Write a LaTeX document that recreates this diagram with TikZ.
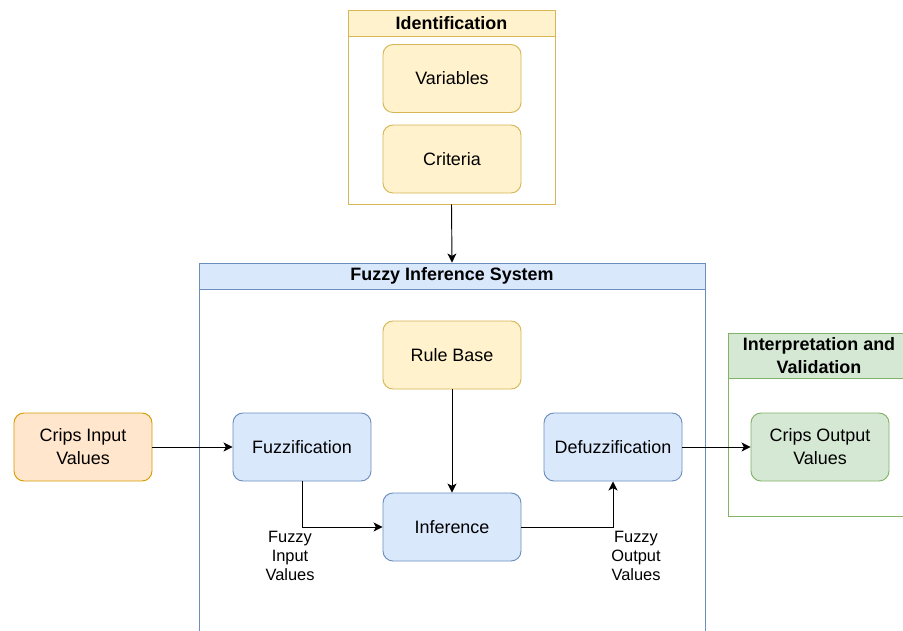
\documentclass[tikz,border=0pt]{standalone}
\usepackage{fontspec}
\setmainfont{Liberation Sans}
\usetikzlibrary{arrows.meta,positioning,fit}
\definecolor{yelfill}{HTML}{FFF2CC}
\definecolor{yelline}{HTML}{D6B656}
\definecolor{bluefill}{HTML}{DAE8FC}
\definecolor{blueline}{HTML}{6C8EBF}
\definecolor{grnfill}{HTML}{D5E8D4}
\definecolor{grnline}{HTML}{82B366}
\definecolor{orgfill}{HTML}{FFE6CC}
\definecolor{orgline}{HTML}{D79B00}

\begin{document}
\begin{tikzpicture}[ % options of the picture
    x=0.03cm, y=-0.03cm, % one unit = one pixel, y goes down
    line width=0.8pt,
    >={Stealth[length=0.27cm,width=0.27cm,inset=0.07cm]}, % arrow tips
    font=\fontsize{15.3}{19.5}\selectfont
  ]
  \tikzset{
    blk/.style={draw, rounded corners=0.3cm, minimum width=4.14cm, minimum height=2.04cm, align=center, inner sep=0pt},
    grp/.style={draw, fill=white, inner sep=0pt},
    hdr/.style={draw, inner sep=0pt},
    hdrtxt/.style={align=center, inner sep=0pt, font=\fontsize{15.3}{19.5}\selectfont\bfseries},
    lbl/.style={align=center, font=\fontsize{14}{16.2}\selectfont}
  }
  \clip (0,0) rectangle (903,630); % page size

  %% containers
  \node[grp, draw=yelline, fit={(348,10) (555,204)}] (ident) {};
  \node[hdr, draw=yelline, fill=yelfill, fit={(348,10) (555,36)},
    label={[hdrtxt]center:Identification}] (identh) {};
  \node[grp, draw=blueline, fit={(199,263) (705,660)}] (fis) {};
  \node[hdr, draw=blueline, fill=bluefill, fit={(199,263) (705,289)},
    label={[hdrtxt]center:Fuzzy Inference System}] (fish) {};
  \node[grp, draw=grnline, fit={(728,333) (910,516)}] (interp) {};
  \node[hdr, draw=grnline, fill=grnfill, fit={(728,333) (910,378)},
    label={[hdrtxt]center:Interpretation and\\Validation}] (interph) {};

  %% blocks
  \node[blk, draw=yelline, fill=yelfill] (var) at (452,78.5) {Variables};
  \node[blk, draw=yelline, fill=yelfill] (crit) at (452,159) {Criteria};
  \node[blk, draw=yelline, fill=yelfill] (rule) at (452,355) {Rule Base};
  \node[blk, draw=blueline, fill=bluefill] (fuzz) at (302,447) {Fuzzification};
  \node[blk, draw=blueline, fill=bluefill] (inf) at (452,527) {Inference};
  \node[blk, draw=blueline, fill=bluefill] (defuzz) at (613,447) {Defuzzification};
  \node[blk, draw=orgline, fill=orgfill] (cin) at (83,447) {Crips Input\\Values};
  \node[blk, draw=grnline, fill=grnfill] (cout) at (820,447) {Crips Output\\Values};

  %% labels
  \node[lbl] (fin) at (290,556) {Fuzzy\\Input\\Values};
  \node[lbl] (fout) at (636,556) {Fuzzy\\Output\\Values};

  %% paths
  \draw[->] (ident.south) -- (fis.north);
  \draw[->] (cin) -- (fuzz);
  \draw[->] (rule) -- (inf);
  \draw[->] (fuzz.south) |- (inf.west);
  \draw[->] (inf.east) -| (defuzz.south);
  \draw[->] (defuzz) -- (cout);
\end{tikzpicture}
\end{document}
